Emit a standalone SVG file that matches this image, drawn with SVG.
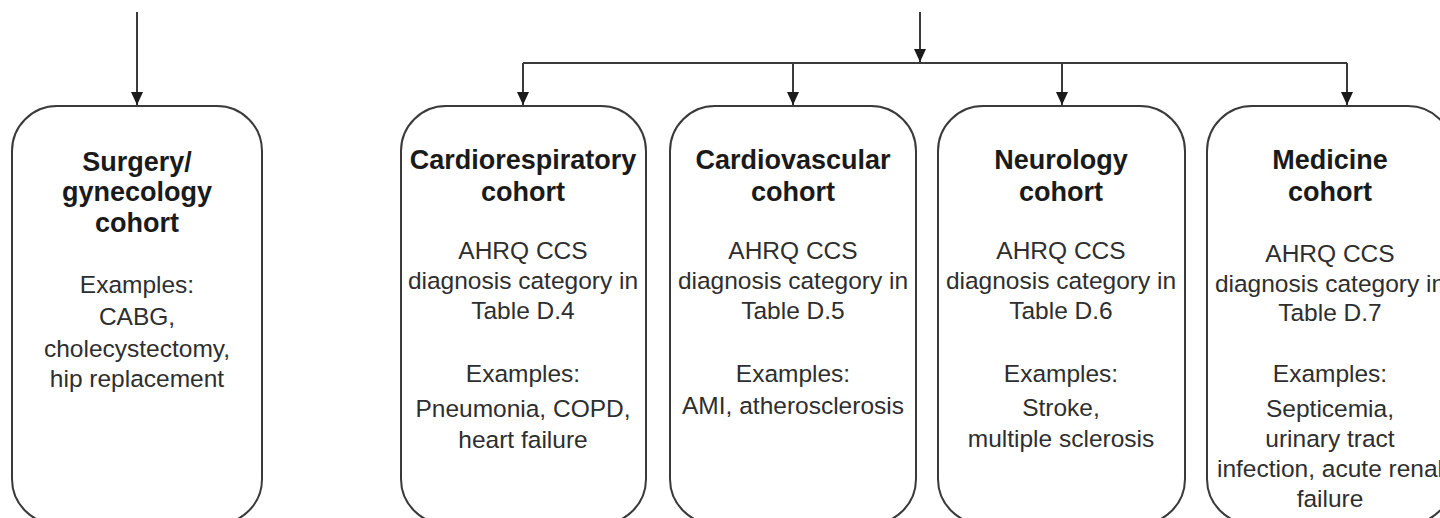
<svg xmlns="http://www.w3.org/2000/svg" width="1440" height="518" viewBox="0 0 1440 518">
<style>
.box{fill:#fff;stroke:#3a3a3a;stroke-width:2}
.ttl{font-family:"Liberation Sans",Arial,sans-serif;font-weight:bold;font-size:27px;fill:#1a1a1a;text-anchor:middle}
.txt{font-family:"Liberation Sans",Arial,sans-serif;font-size:24.5px;fill:#2e2e2e;text-anchor:middle}
.ln{fill:none;stroke:#3a3a3a;stroke-width:2}
</style>
<defs>
<marker id="ah" markerUnits="userSpaceOnUse" markerWidth="12" markerHeight="14" refX="6" refY="13" orient="0" viewBox="0 0 12 14">
<path d="M0,0 L12,0 L6,13 Z" fill="#1a1a1a"/>
</marker>
</defs>
<rect width="1440" height="518" fill="#fff"/>
<g id="connectors">
<path class="ln" d="M137,12 V105" marker-end="url(#ah)"/>
<path class="ln" d="M920,12 V62" marker-end="url(#ah)"/>
<path class="ln" d="M523,63 H1347"/>
<path class="ln" d="M523,63 V105" marker-end="url(#ah)"/>
<path class="ln" d="M793,63 V105" marker-end="url(#ah)"/>
<path class="ln" d="M1062,63 V105" marker-end="url(#ah)"/>
<path class="ln" d="M1347,63 V105" marker-end="url(#ah)"/>
</g>
<g id="surgery">
<rect class="box" x="12" y="106" width="250" height="418" rx="45" ry="45"/>
<text class="ttl" x="137" y="171">Surgery/</text>
<text class="ttl" x="137" y="201">gynecology</text>
<text class="ttl" x="137" y="232">cohort</text>
<text class="txt" x="137" y="293">Examples:</text>
<text class="txt" x="137" y="325">CABG,</text>
<text class="txt" x="137" y="357">cholecystectomy,</text>
<text class="txt" x="137" y="387">hip replacement</text>
</g>
<g id="cardiorespiratory">
<rect class="box" x="401" y="106" width="245" height="418" rx="45" ry="45"/>
<text class="ttl" x="523" y="169">Cardiorespiratory</text>
<text class="ttl" x="523" y="201">cohort</text>
<text class="txt" x="523" y="259">AHRQ CCS</text>
<text class="txt" x="523" y="289">diagnosis category in</text>
<text class="txt" x="523" y="319">Table D.4</text>
<text class="txt" x="523" y="382">Examples:</text>
<text class="txt" x="523" y="417">Pneumonia, COPD,</text>
<text class="txt" x="523" y="448">heart failure</text>
</g>
<g id="cardiovascular">
<rect class="box" x="670" y="106" width="246" height="418" rx="45" ry="45"/>
<text class="ttl" x="793" y="169">Cardiovascular</text>
<text class="ttl" x="793" y="201">cohort</text>
<text class="txt" x="793" y="259">AHRQ CCS</text>
<text class="txt" x="793" y="289">diagnosis category in</text>
<text class="txt" x="793" y="319">Table D.5</text>
<text class="txt" x="793" y="382">Examples:</text>
<text class="txt" x="793" y="414">AMI, atherosclerosis</text>
</g>
<g id="neurology">
<rect class="box" x="938" y="106" width="247" height="418" rx="45" ry="45"/>
<text class="ttl" x="1061" y="169">Neurology</text>
<text class="ttl" x="1061" y="201">cohort</text>
<text class="txt" x="1061" y="259">AHRQ CCS</text>
<text class="txt" x="1061" y="289">diagnosis category in</text>
<text class="txt" x="1061" y="319">Table D.6</text>
<text class="txt" x="1061" y="382">Examples:</text>
<text class="txt" x="1061" y="416">Stroke,</text>
<text class="txt" x="1061" y="447">multiple sclerosis</text>
</g>
<g id="medicine">
<rect class="box" x="1207" y="106" width="246" height="418" rx="45" ry="45"/>
<text class="ttl" x="1330" y="169">Medicine</text>
<text class="ttl" x="1330" y="201">cohort</text>
<text class="txt" x="1330" y="262">AHRQ CCS</text>
<text class="txt" x="1330" y="292">diagnosis category in</text>
<text class="txt" x="1330" y="321">Table D.7</text>
<text class="txt" x="1330" y="382">Examples:</text>
<text class="txt" x="1330" y="417">Septicemia,</text>
<text class="txt" x="1330" y="447">urinary tract</text>
<text class="txt" x="1330" y="477">infection, acute renal</text>
<text class="txt" x="1330" y="507">failure</text>
</g>
</svg>
